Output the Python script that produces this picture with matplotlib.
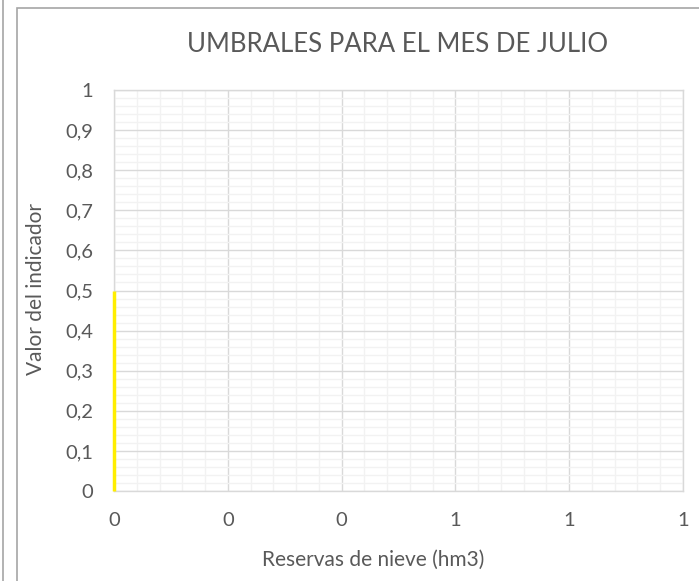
import numpy as np
import matplotlib.pyplot as plt
from matplotlib.patches import Rectangle
from matplotlib.lines import Line2D
from matplotlib.ticker import MultipleLocator, FuncFormatter

plt.rcParams['font.family'] = ['Lato', 'DejaVu Sans']

# datos
titulo = "UMBRALES PARA EL MES DE JULIO"
umbral_x = [0, 0]
umbral_y = [0, 0.5]
x_ticks = [0, 0.2, 0.4, 0.6, 0.8, 1.0]
y_ticks = [0, 0.1, 0.2, 0.3, 0.4, 0.5, 0.6, 0.7, 0.8, 0.9, 1.0]

W, H = 699, 581
fig = plt.figure(figsize=(W / 100, H / 100), dpi=100)
gris = '#595959'

# marco del grafico y borde de otro objeto a la izquierda
fig.patches.append(Rectangle((17 / W, -0.1), 1.0, 1 - 8 / H + 0.1, transform=fig.transFigure,
                             fill=False, edgecolor='#a6a6a6', linewidth=1.2))
fig.lines.append(Line2D([3 / W, 3 / W], [0, 1], transform=fig.transFigure,
                        color='#a6a6a6', linewidth=1.2))

ax = fig.add_axes([114 / W, 1 - 491 / H, (683 - 114) / W, (491 - 90) / H])
ax.set_xlim(0, 1)
ax.set_ylim(0, 1)

ax.xaxis.set_minor_locator(MultipleLocator(0.04))
ax.yaxis.set_minor_locator(MultipleLocator(0.02))
ax.set_xticks(x_ticks)
ax.set_yticks(y_ticks)


def fmt_y(v, p):
    if abs(v) < 1e-9 or abs(v - 1) < 1e-9:
        return f"{v:.0f}"
    return f"{v:.1f}".replace('.', ',')


ax.xaxis.set_major_formatter(FuncFormatter(lambda v, p: f"{v:.0f}"))
ax.yaxis.set_major_formatter(FuncFormatter(fmt_y))

ax.grid(which='minor', color='#f2f2f2', linewidth=1.0)
ax.grid(which='major', color='#d9d9d9', linewidth=1.0)
ax.set_axisbelow(True)
for s in ax.spines.values():
    s.set_color('#d9d9d9')
    s.set_linewidth(1.0)

ax.tick_params(which='both', length=0, colors=gris, labelsize=14.5)
ax.tick_params(axis='x', pad=15)
ax.tick_params(axis='y', pad=15)

ax.plot(umbral_x, umbral_y, color='#ffee00', linewidth=2.5, solid_capstyle='butt',
        clip_on=False, zorder=5)

fig.text(398 / W, 1 - 45 / H, titulo, ha='center', va='center', color=gris, fontsize=18.5)
fig.text(373 / W, 1 - 560 / H, "Reservas de nieve (hm3)", ha='center', va='center', color=gris, fontsize=15)
fig.text(36 / W, 1 - 289 / H, "Valor del indicador", ha='center', va='center', rotation=90,
         color=gris, fontsize=15)

fig.savefig('out.png', dpi=100)
